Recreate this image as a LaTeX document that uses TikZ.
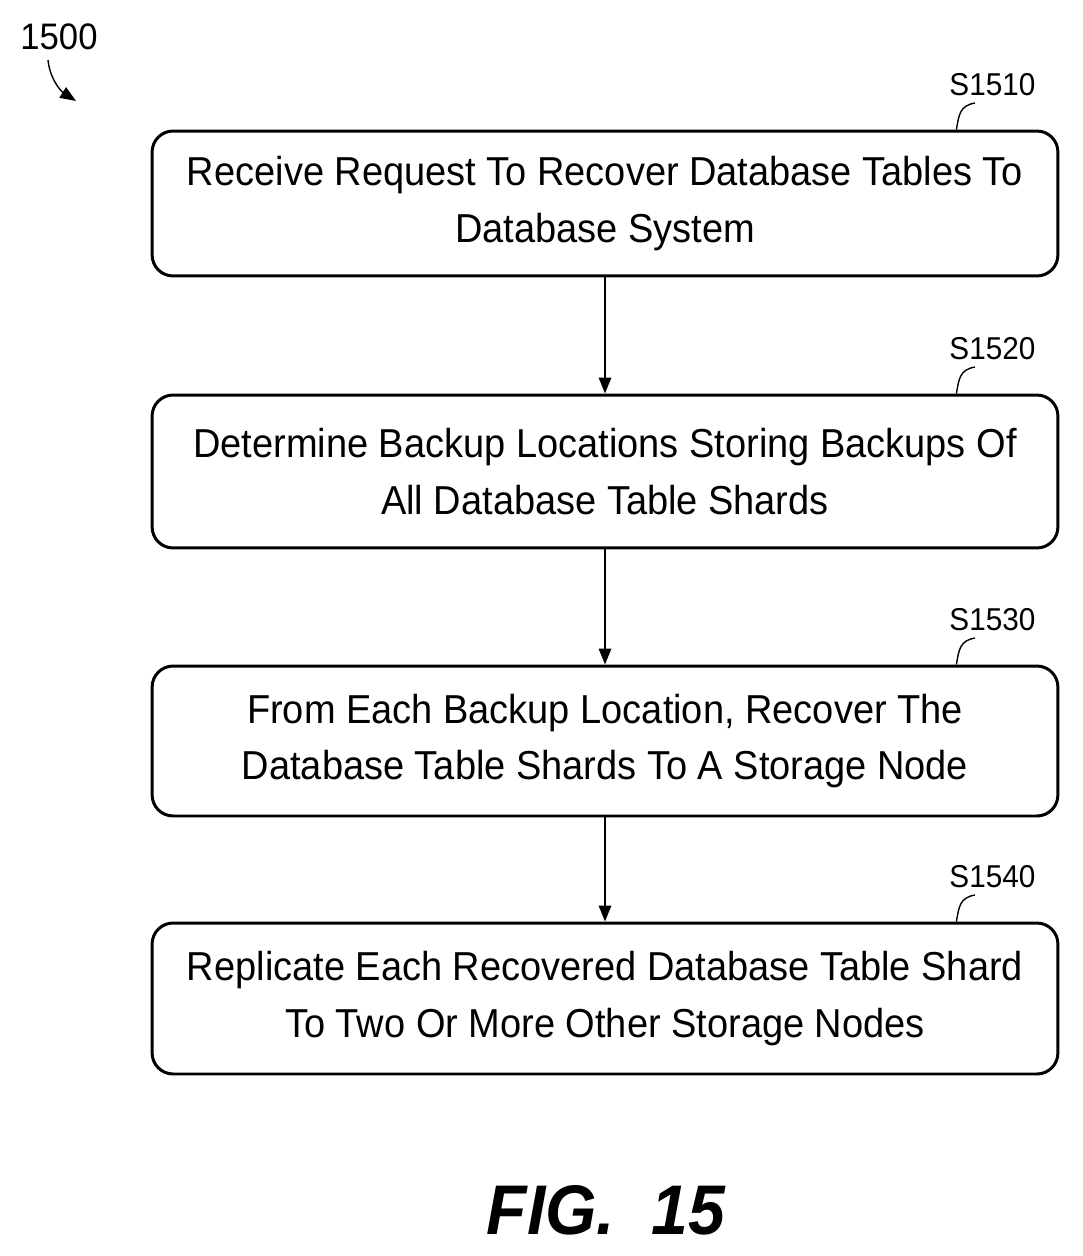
\documentclass[tikz,border=0pt]{standalone}
\usepackage{fontspec}
\setmainfont[FakeStretch=0.94]{Liberation Sans}
\usetikzlibrary{arrows.meta,positioning}

\begin{document}
\begin{tikzpicture}[x=0.02cm,y=-0.02cm,>={Triangle[length=9pt,width=7pt]},
    stepbox/.style={draw,line width=1.7pt,rounded corners=12pt,minimum width=18.12cm,
        align=center,font=\fontsize{23}{32}\selectfont,inner sep=0pt},
    lbl/.style={font=\fontsize{18}{20}\selectfont}]
    \useasboundingbox (0,0) rectangle (1082,1256);

    \node[stepbox,minimum height=2.9cm] (s1) at (605,203.5) {Receive Request To Recover Database Tables To\\Database System};
    \node[stepbox,minimum height=3.06cm] (s2) at (605,471.5) {Determine Backup Locations Storing Backups Of\\All Database Table Shards};
    \node[stepbox,minimum height=3cm] (s3) at (605,741) {From Each Backup Location, Recover The\\Database Table Shards To A Storage Node};
    \node[stepbox,minimum height=3.02cm] (s4) at (605,998.5) {Replicate Each Recovered Database Table Shard\\To Two Or More Other Storage Nodes};

    \draw[->,line width=1pt] (s1) -- (s2);
    \draw[->,line width=1pt] (s2) -- (s3);
    \draw[->,line width=1pt] (s3) -- (s4);

    % step labels
    \foreach \s/\n in {s1/S1510,s2/S1520,s3/S1530,s4/S1540}{
        \node[lbl,anchor=south] (l\n) at ([xshift=7.75cm,yshift=0.55cm]\s.north) {\n};
        \draw[line width=0.8pt] ([xshift=-0.35cm,yshift=-0.02cm]l\n.south) .. controls +(-0.3cm,-0.05cm) and +(0.05cm,0.3cm) .. ([xshift=-2.06cm]\s.north east);
    }

    \node[font=\fontsize{21}{24}\selectfont] (fig) at (59,37) {1500};
    \coordinate (figtip) at (76,101);
    \draw[->,line width=0.8pt] (48,60) .. controls (50,80) and (62,92) .. (figtip);

    \node[font=\fontsize{40}{44}\selectfont\bfseries\itshape] (cap) at (606,1210) {FIG.\ \ 15};
\end{tikzpicture}
\end{document}
